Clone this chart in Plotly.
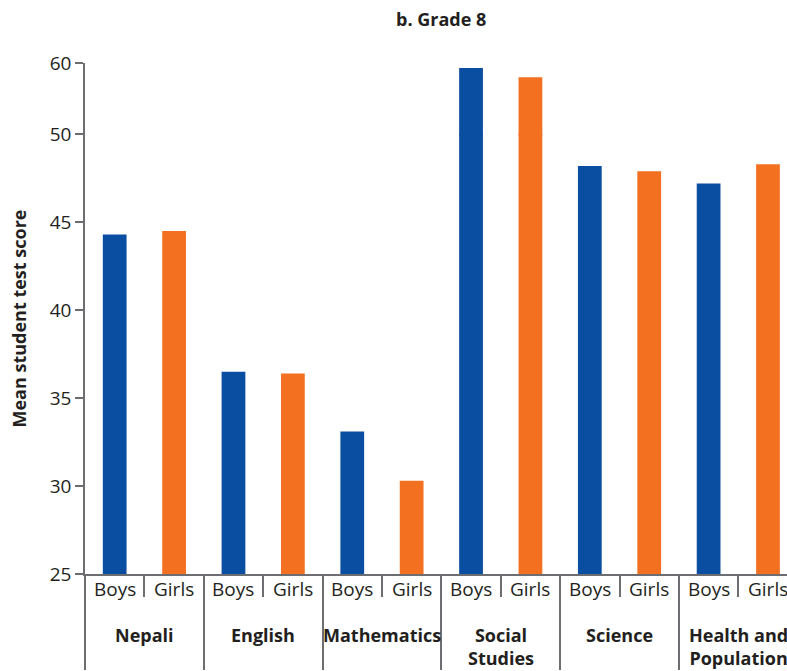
import plotly.graph_objects as go

# Mean student test scores, Grade 8, by subject and sex
subjects = ["Nepali", "English", "Mathematics", "Social<br>Studies", "Science", "Health and<br>Population"]
boys = [44.3, 36.5, 33.1, 59.3, 48.2, 47.2]
girls = [44.5, 36.4, 30.3, 58.0, 47.9, 48.3]
sex_labels = ["Boys", "Girls"]

# broken value axis: 25-50 on the lower panel, 50-60 compressed on top
lower_ticks = [25, 30, 35, 40, 45, 50]
upper_ticks = [60]

BLUE = "#0a4ea2"
ORANGE = "#f37021"
AXIS = "#6d6e71"
TEXT = "#231f20"
FONT = "Open Sans"

boys_x = [2 * i for i in range(len(subjects))]
girls_x = [2 * i + 1 for i in range(len(subjects))]

fig = go.Figure()
for xa, ya in (("x", "y"), ("x2", "y2")):
    fig.add_trace(go.Bar(x=boys_x, y=boys, width=0.4, marker=dict(color=BLUE, line=dict(width=0)),
                         name="Boys", xaxis=xa, yaxis=ya, showlegend=False))
    fig.add_trace(go.Bar(x=girls_x, y=girls, width=0.4, marker=dict(color=ORANGE, line=dict(width=0)),
                         name="Girls", xaxis=xa, yaxis=ya, showlegend=False))

plot_h = 671 - 63 - 97
split = 0.8605
# upper panel reaches 1 px down into the lower one so the bars join without a seam
overlap = 1.5 / plot_h
upper_px = (1 - split) * plot_h
upper_lo = 50 - 10 * 1.5 / upper_px
x_range = [-0.5, 11.32]

fig.update_layout(
    width=787, height=671,
    margin=dict(l=85, r=0, t=63, b=97),
    paper_bgcolor="white", plot_bgcolor="rgba(0,0,0,0)",
    barmode="overlay",
    font=dict(family=FONT, color=TEXT, size=19),
    xaxis=dict(
        range=x_range, domain=[0, 1], anchor="y",
        showline=True, linecolor=AXIS, linewidth=1.5,
        showgrid=False, zeroline=False, showticklabels=False,
        tickmode="array", tickvals=[2 * i - 0.5 for i in range(len(subjects))],
        ticks="outside", ticklen=94, tickcolor=AXIS, tickwidth=1.5,
        minor=dict(tickmode="array", tickvals=[2 * i + 0.5 for i in range(len(subjects))],
                   ticks="outside", ticklen=21, tickcolor=AXIS, tickwidth=1.5, showgrid=False),
    ),
    xaxis2=dict(
        range=x_range, domain=[0, 1], anchor="y2", matches="x",
        visible=False, showgrid=False, zeroline=False,
    ),
    yaxis=dict(
        range=[25, 50], domain=[0, split], anchor="x",
        showline=True, linecolor=AXIS, linewidth=1.5,
        showgrid=False, zeroline=False,
        tickmode="array", tickvals=lower_ticks,
        ticks="outside", ticklen=8, tickcolor=AXIS, tickwidth=1.5,
        tickfont=dict(size=19, color=TEXT),
    ),
    yaxis2=dict(
        range=[upper_lo, 60], domain=[split - overlap, 1], anchor="x2",
        showline=True, linecolor=AXIS, linewidth=1.5,
        showgrid=False, zeroline=False,
        tickmode="array", tickvals=upper_ticks,
        ticks="outside", ticklen=8, tickcolor=AXIS, tickwidth=1.5,
        tickfont=dict(size=19, color=TEXT),
    ),
)

annotations = []
# Boys / Girls labels under each bar, subject names below them
for i in range(len(subjects)):
    for j, lab in enumerate(sex_labels):
        annotations.append(dict(x=2 * i + j, y=0, xref="x", yref="paper", text=lab,
                                showarrow=False, yanchor="middle", yshift=-15,
                                font=dict(size=19, color=TEXT, family=FONT)))
    annotations.append(dict(x=2 * i + 0.5, y=0, xref="x", yref="paper", text="<b>%s</b>" % subjects[i],
                            showarrow=False, yanchor="top", yshift=-47,
                            font=dict(size=18, color=TEXT, family=FONT)))

annotations.append(dict(x=5.5, y=1, xref="x", yref="paper", text="<b>b. Grade 8</b>",
                        showarrow=False, yanchor="middle", yshift=44,
                        font=dict(size=18, color=TEXT, family=FONT)))
annotations.append(dict(x=0, y=0.5, xref="paper", yref="paper", text="<b>Mean student test score</b>",
                        showarrow=False, textangle=-90, xanchor="center", yanchor="middle", xshift=-67,
                        font=dict(size=18, color=TEXT, family=FONT)))

fig.update_layout(annotations=annotations)

fig.write_html("out.html")
